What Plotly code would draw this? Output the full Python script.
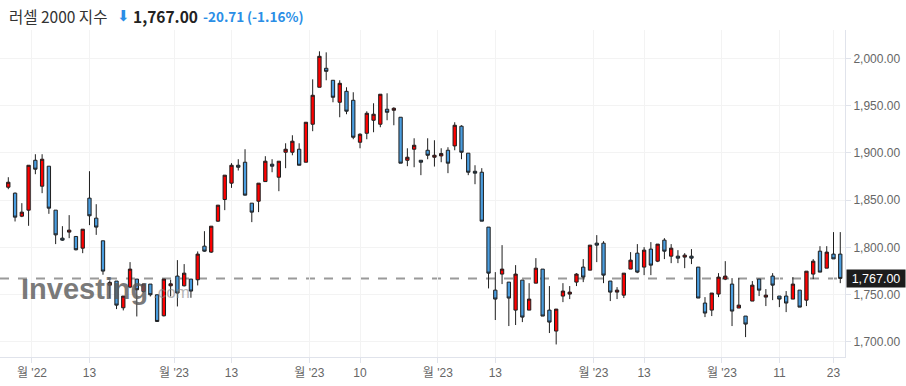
import plotly.graph_objects as go

dates = [
    "2022-11-25", "2022-11-28", "2022-11-29", "2022-11-30",
    "2022-12-01", "2022-12-02", "2022-12-05", "2022-12-06", "2022-12-07", "2022-12-08", "2022-12-09",
    "2022-12-12", "2022-12-13", "2022-12-14", "2022-12-15", "2022-12-16", "2022-12-19", "2022-12-20",
    "2022-12-21", "2022-12-22", "2022-12-23", "2022-12-27", "2022-12-28", "2022-12-29", "2022-12-30",
    "2023-01-03", "2023-01-04", "2023-01-05", "2023-01-06", "2023-01-09", "2023-01-10", "2023-01-11",
    "2023-01-12", "2023-01-13", "2023-01-17", "2023-01-18", "2023-01-19", "2023-01-20", "2023-01-23",
    "2023-01-24", "2023-01-25", "2023-01-26", "2023-01-27", "2023-01-30", "2023-01-31",
    "2023-02-01", "2023-02-02", "2023-02-03", "2023-02-06", "2023-02-07", "2023-02-08", "2023-02-09",
    "2023-02-10", "2023-02-13", "2023-02-14", "2023-02-15", "2023-02-16", "2023-02-17", "2023-02-21",
    "2023-02-22", "2023-02-23", "2023-02-24", "2023-02-27", "2023-02-28",
    "2023-03-01", "2023-03-02", "2023-03-03", "2023-03-06", "2023-03-07", "2023-03-08", "2023-03-09",
    "2023-03-10", "2023-03-13", "2023-03-14", "2023-03-15", "2023-03-16", "2023-03-17", "2023-03-20",
    "2023-03-21", "2023-03-22", "2023-03-23", "2023-03-24", "2023-03-27", "2023-03-28", "2023-03-29",
    "2023-03-30", "2023-03-31",
    "2023-04-03", "2023-04-04", "2023-04-05", "2023-04-06", "2023-04-10", "2023-04-11", "2023-04-12",
    "2023-04-13", "2023-04-14", "2023-04-17", "2023-04-18", "2023-04-19", "2023-04-20", "2023-04-21",
    "2023-04-24", "2023-04-25", "2023-04-26", "2023-04-27", "2023-04-28",
    "2023-05-01", "2023-05-02", "2023-05-03", "2023-05-04", "2023-05-05", "2023-05-08", "2023-05-09",
    "2023-05-10", "2023-05-11", "2023-05-12", "2023-05-15", "2023-05-16", "2023-05-17", "2023-05-18",
    "2023-05-19", "2023-05-22", "2023-05-23", "2023-05-24",
]

open_ = [
    1863.7, 1857.4, 1833.0, 1839.4, 1892.3, 1864.8, 1886.0, 1839.4, 1809.7, 1816.1,
    1811.5, 1799.1, 1852.1, 1830.9, 1806.9, 1759.9, 1764.2, 1735.9, 1757.8, 1766.3,
    1753.2, 1761.0, 1749.7, 1727.4, 1759.2, 1769.5, 1759.2, 1766.3, 1765.6, 1801.2,
    1794.9, 1827.7, 1850.7, 1868.0, 1887.0, 1890.2, 1846.8, 1848.9, 1869.7, 1888.1,
    1874.3, 1900.8, 1900.8, 1904.0, 1890.2, 1930.5, 1969.7, 1989.8, 1977.1, 1953.8,
    1965.4, 1955.9, 1911.4, 1920.9, 1934.7, 1930.5, 1946.4, 1945.3, 1937.9, 1892.3,
    1904.0, 1892.3, 1902.9, 1895.5, 1896.9, 1902.9, 1907.5, 1928.4, 1899.8, 1880.6,
    1879.6, 1821.4, 1754.6, 1771.6, 1763.1, 1733.4, 1765.2, 1733.4, 1762.0, 1776.9,
    1733.4, 1711.2, 1748.3, 1750.4, 1763.1, 1779.0, 1775.8, 1804.4, 1804.4, 1764.2,
    1752.5, 1749.3, 1776.9, 1793.8, 1779.0, 1798.1, 1785.3, 1807.6, 1790.6, 1790.6,
    1789.6, 1790.6, 1779.0, 1740.9, 1733.4, 1750.4, 1766.3, 1761.0, 1735.6, 1727.1,
    1743.0, 1766.3, 1747.2, 1769.5, 1748.3, 1748.3, 1745.1, 1754.6, 1744.0, 1771.6,
    1795.9, 1777.9, 1792.8, 1792.8,
]
high = [
    1874.3, 1858.1, 1846.8, 1887.0, 1898.7, 1898.7, 1886.0, 1839.4, 1822.4, 1834.1,
    1811.5, 1819.2, 1880.7, 1845.7, 1806.9, 1764.9, 1764.2, 1748.3, 1784.3, 1766.3,
    1761.0, 1761.0, 1749.7, 1766.3, 1765.6, 1786.4, 1782.2, 1766.3, 1795.6, 1817.1,
    1822.4, 1844.7, 1876.5, 1889.2, 1893.4, 1904.0, 1846.8, 1868.0, 1896.6, 1893.4,
    1891.3, 1910.3, 1918.8, 1910.3, 1932.6, 1978.1, 2007.8, 2006.7, 1977.1, 1977.1,
    1969.7, 1964.4, 1920.9, 1944.2, 1952.7, 1962.3, 1963.3, 1948.5, 1937.9, 1905.0,
    1915.6, 1892.3, 1915.6, 1913.5, 1905.0, 1906.1, 1932.6, 1929.4, 1899.8, 1887.0,
    1883.9, 1821.4, 1773.7, 1802.3, 1763.1, 1781.1, 1765.2, 1762.0, 1788.5, 1776.9,
    1758.9, 1734.5, 1762.0, 1758.9, 1772.6, 1787.5, 1802.3, 1812.9, 1806.5, 1764.2,
    1757.8, 1772.6, 1794.9, 1803.4, 1800.2, 1805.5, 1803.4, 1809.7, 1803.4, 1797.0,
    1793.8, 1798.1, 1779.0, 1747.2, 1751.5, 1772.6, 1785.3, 1767.3, 1767.3, 1727.1,
    1764.2, 1766.3, 1755.7, 1772.6, 1748.3, 1753.6, 1768.4, 1754.6, 1774.7, 1787.5,
    1801.2, 1801.2, 1816.1, 1816.1,
]
low = [
    1861.6, 1827.4, 1832.0, 1822.8, 1877.5, 1857.4, 1835.5, 1803.4, 1806.9, 1809.7,
    1796.7, 1793.8, 1823.5, 1813.2, 1770.9, 1746.2, 1734.5, 1733.1, 1756.7, 1726.7,
    1752.0, 1747.9, 1721.0, 1726.7, 1747.9, 1737.3, 1758.5, 1746.5, 1759.6, 1795.2,
    1794.0, 1827.0, 1839.4, 1863.0, 1881.4, 1855.0, 1826.7, 1837.3, 1869.7, 1879.6,
    1859.5, 1883.9, 1897.6, 1887.0, 1890.2, 1923.1, 1969.7, 1977.1, 1953.8, 1937.9,
    1941.1, 1914.6, 1905.0, 1914.6, 1922.0, 1927.3, 1934.7, 1929.4, 1889.2, 1886.0,
    1884.9, 1876.5, 1893.4, 1885.6, 1890.2, 1878.6, 1902.9, 1893.4, 1876.5, 1866.9,
    1827.7, 1756.4, 1722.9, 1761.0, 1716.5, 1717.6, 1720.7, 1733.4, 1762.0, 1727.1,
    1709.1, 1697.0, 1741.9, 1745.1, 1758.9, 1763.1, 1775.8, 1784.3, 1762.0, 1743.0,
    1745.1, 1746.2, 1776.9, 1772.6, 1770.5, 1770.5, 1784.3, 1787.5, 1783.2, 1783.2,
    1777.9, 1782.2, 1746.2, 1726.0, 1727.1, 1747.2, 1765.2, 1716.5, 1735.6, 1704.8,
    1743.0, 1748.3, 1737.7, 1744.0, 1736.6, 1731.3, 1745.1, 1736.6, 1737.7, 1766.3,
    1773.7, 1777.9, 1787.71, 1762.0,
]
close = [
    1869.0, 1832.0, 1837.3, 1887.0, 1882.8, 1893.4, 1841.5, 1813.2, 1807.6, 1818.2,
    1797.4, 1819.2, 1833.4, 1821.4, 1774.8, 1762.8, 1738.7, 1748.3, 1776.9, 1755.0,
    1761.0, 1749.7, 1721.4, 1766.3, 1761.3, 1751.5, 1772.6, 1753.6, 1792.8, 1795.9,
    1822.4, 1844.7, 1876.5, 1887.0, 1884.9, 1855.3, 1837.3, 1868.0, 1891.3, 1886.0,
    1891.3, 1904.0, 1912.5, 1887.0, 1932.6, 1961.2, 2002.5, 1986.6, 1959.1, 1973.9,
    1944.3, 1916.7, 1919.9, 1942.1, 1941.1, 1962.3, 1943.2, 1947.4, 1889.2, 1895.5,
    1908.2, 1890.2, 1897.6, 1897.6, 1899.4, 1889.2, 1929.4, 1900.8, 1879.6, 1878.6,
    1827.7, 1772.6, 1745.1, 1776.9, 1746.2, 1771.6, 1726.0, 1745.1, 1777.9, 1727.1,
    1720.7, 1734.5, 1753.6, 1752.5, 1771.6, 1768.4, 1802.3, 1802.3, 1770.5, 1752.5,
    1754.6, 1772.6, 1786.4, 1773.7, 1797.0, 1781.1, 1803.4, 1795.9, 1799.1, 1788.5,
    1791.7, 1788.5, 1746.2, 1730.3, 1751.5, 1768.4, 1769.5, 1732.4, 1738.7, 1718.6,
    1759.9, 1754.6, 1749.3, 1759.9, 1745.1, 1740.9, 1761.0, 1736.6, 1774.7, 1785.3,
    1773.7, 1794.9, 1787.71, 1767.0,
]

# x-axis ticks: month starts (drawn at the month boundary) and mid-month days
month_tick_dates = ["2022-12-01", "2023-01-03", "2023-02-01", "2023-03-01", "2023-04-03", "2023-05-01"]
month_tick_labels = ["월 '22", "월 '23", "월 '23", "월 '23", "월 '23", "월 '23"]
day_tick_dates = ["2022-12-13", "2023-01-13", "2023-02-10", "2023-03-13", "2023-04-13", "2023-05-11", "2023-05-23"]
day_tick_labels = ["13", "13", "10", "13", "13", "11", "23"]

last_price = 1767.00
title_name = "러셀 2000 지수"
title_price = "1,767.00"
title_change = "-20.71"
title_pct = "(-1.16%)"

x = list(range(len(dates)))
tickvals = [dates.index(d) - 0.5 for d in month_tick_dates] + [dates.index(d) for d in day_tick_dates]
ticktext = month_tick_labels + day_tick_labels

RED = "#ff0000"
BLUE = "#4a9ddf"
EDGE = "#1e1e1e"
CHG = "#2a8ee6"

fig = go.Figure()
fig.add_trace(go.Candlestick(
    x=x, open=open_, high=high, low=low, close=close,
    increasing=dict(fillcolor=RED, line=dict(color=EDGE, width=1)),
    decreasing=dict(fillcolor=BLUE, line=dict(color=EDGE, width=1)),
    whiskerwidth=0, showlegend=False, hoverinfo="skip",
))

PW = 845.0
PH = 327.3

fig.add_shape(type="line", xref="paper", x0=0, x1=1, yref="y", y0=last_price, y1=last_price,
              line=dict(color="#9a9a9a", width=2, dash="dash"), layer="below")

cjk = "Noto Sans CJK KR, Arial, sans-serif"
ty = 1 + (30 - 15.5) / PH
ann = [
    dict(text=title_name, x=7 / PW, font=dict(size=15.5, color="#333333", family=cjk)),
    dict(text="⬇", x=115 / PW, font=dict(size=15, color=CHG, family="DejaVu Sans")),
    dict(text="<b>" + title_price + "</b>", x=131 / PW, font=dict(size=15.5, color="#222222", family=cjk)),
    dict(text="<b>" + title_change + "</b>", x=201 / PW, font=dict(size=13.5, color=CHG, family=cjk)),
    dict(text="<b>" + title_pct + "</b>", x=245 / PW, font=dict(size=13.5, color=CHG, family=cjk)),
]
for a in ann:
    fig.add_annotation(xref="paper", yref="paper", y=ty, xanchor="left", yanchor="middle",
                       showarrow=False, **a)

# watermark
fig.add_annotation(xref="paper", yref="y", x=19 / PW, y=1756, xanchor="left", yanchor="middle",
                   text="<b>Investing</b>", showarrow=False, opacity=0.8,
                   font=dict(size=29, color="#5a5a5a", family="Arial"))
fig.add_annotation(xref="paper", yref="y", x=151 / PW, y=1752, xanchor="left", yanchor="middle",
                   text=".com", showarrow=False, opacity=0.6,
                   font=dict(size=17, color="#888888", family="Arial"))

# last price label
fig.add_annotation(xref="paper", yref="y", x=1, y=last_price, xanchor="left", yanchor="middle",
                   xshift=1, text=title_price, showarrow=False, bgcolor="#1c1c1c",
                   width=56, height=15, borderpad=1,
                   font=dict(size=12.5, color="#ffffff", family="Arial"))

fig.update_layout(
    width=906, height=386,
    margin=dict(l=0, r=61, t=30, b=29),
    paper_bgcolor="white", plot_bgcolor="white",
    showlegend=False,
    xaxis=dict(
        range=[-1.227, 123.7], tickmode="array", tickvals=tickvals, ticktext=ticktext,
        showgrid=True, gridcolor="#f3f3f3", gridwidth=1,
        showline=True, linecolor="#e0e3eb", linewidth=1,
        ticks="outside", ticklen=5, tickcolor="#e0e3eb",
        tickfont=dict(size=12, color="#666666", family="Arial, Noto Sans CJK KR"),
        rangeslider=dict(visible=False), zeroline=False, fixedrange=True,
    ),
    yaxis=dict(
        side="right", range=[1683.7, 2030.4], dtick=50, tick0=1700, tickformat=",.2f",
        showgrid=True, gridcolor="#f3f3f3", gridwidth=1,
        showline=True, linecolor="#e0e3eb", linewidth=1,
        ticks="outside", ticklen=5, tickcolor="#e0e3eb",
        tickfont=dict(size=12, color="#666666", family="Arial"),
        zeroline=False, fixedrange=True,
    ),
)

fig.write_html("out.html", config={"displayModeBar": False},
               post_script="document.body.style.margin='0';document.body.style.overflow='hidden';")
